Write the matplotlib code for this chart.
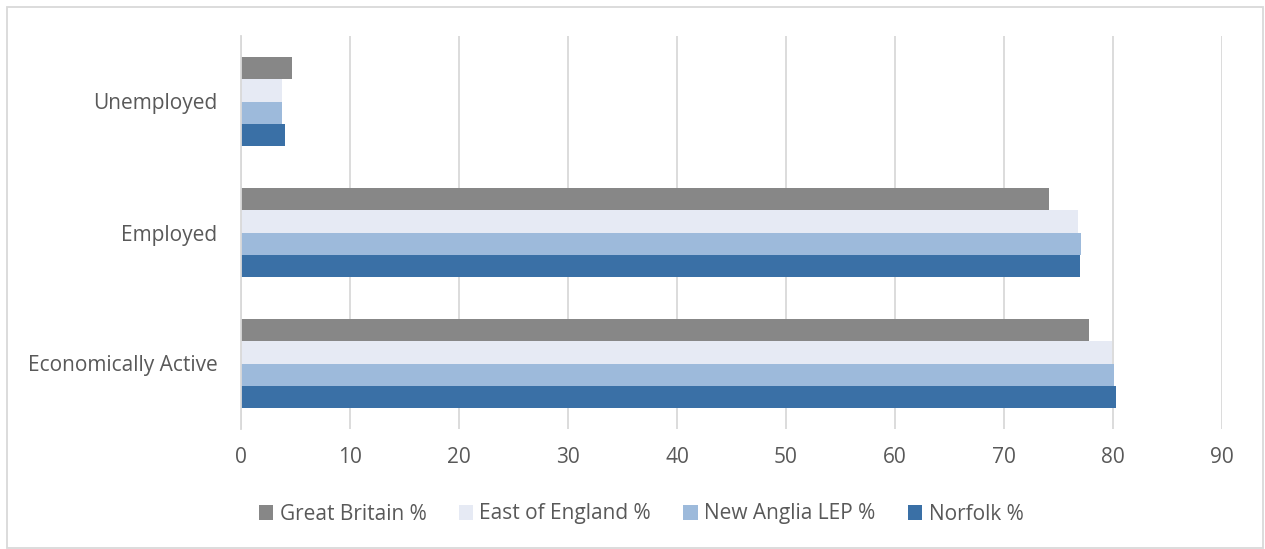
import matplotlib.pyplot as plt
import numpy as np
from matplotlib.patches import Rectangle

categories = ["Economically Active", "Employed", "Unemployed"]
series = ["Great Britain %", "East of England %", "New Anglia LEP %", "Norfolk %"]
great_britain = [77.8, 74.1, 4.7]
east_of_england = [79.9, 76.8, 3.8]
new_anglia = [80.1, 77.1, 3.8]
norfolk = [80.3, 77.0, 4.0]
ticks = [0, 10, 20, 30, 40, 50, 60, 70, 80, 90]

colors = ["#878787", "#e6eaf4", "#9dbadb", "#3a70a6"]
values = [great_britain, east_of_england, new_anglia, norfolk]

plt.rcParams['font.family'] = ['Open Sans', 'DejaVu Sans']

fig = plt.figure(figsize=(12.65, 5.49), dpi=100)
ax = fig.add_axes([241/1265, 1 - 429/549, (1222-241)/1265, (429-36)/549])

y = np.arange(len(categories))
h = 0.17
for i, (name, vals) in enumerate(zip(series, values)):
    offset = (1.5 - i) * h
    ax.barh(y + offset, vals, height=h, color=colors[i], label=name, zorder=3)

ax.set_xlim(0, 90)
ax.set_ylim(-0.5, 2.5)
ax.set_xticks(ticks)
ax.set_yticks(y)
ax.set_yticklabels(categories)
ax.tick_params(axis='both', length=0, labelsize=15, colors="#595959")
ax.tick_params(axis='x', pad=13)
ax.tick_params(axis='y', pad=17)
ax.grid(axis='x', color="#d9d9d9", linewidth=1.3, zorder=0)
for s in ['top', 'right', 'bottom']:
    ax.spines[s].set_visible(False)
ax.spines['left'].set_color("#d9d9d9")
ax.spines['left'].set_linewidth(1.3)
ax.spines['left'].set_zorder(4)

leg = fig.legend(loc='center', bbox_to_anchor=(641/1265, 1 - 514/549), ncol=4,
                 frameon=False, fontsize=15, handlelength=0.7, handleheight=0.7,
                 handletextpad=0.3, columnspacing=1.55)
for t in leg.get_texts():
    t.set_color("#595959")

fig.patches.append(Rectangle((7/1265, 0.002), (1263-7)/1265, 1 - 7/549 - 0.002,
                             transform=fig.transFigure, fill=False,
                             edgecolor="#d9d9d9", linewidth=1.3))

fig.savefig("out.png", dpi=100)
